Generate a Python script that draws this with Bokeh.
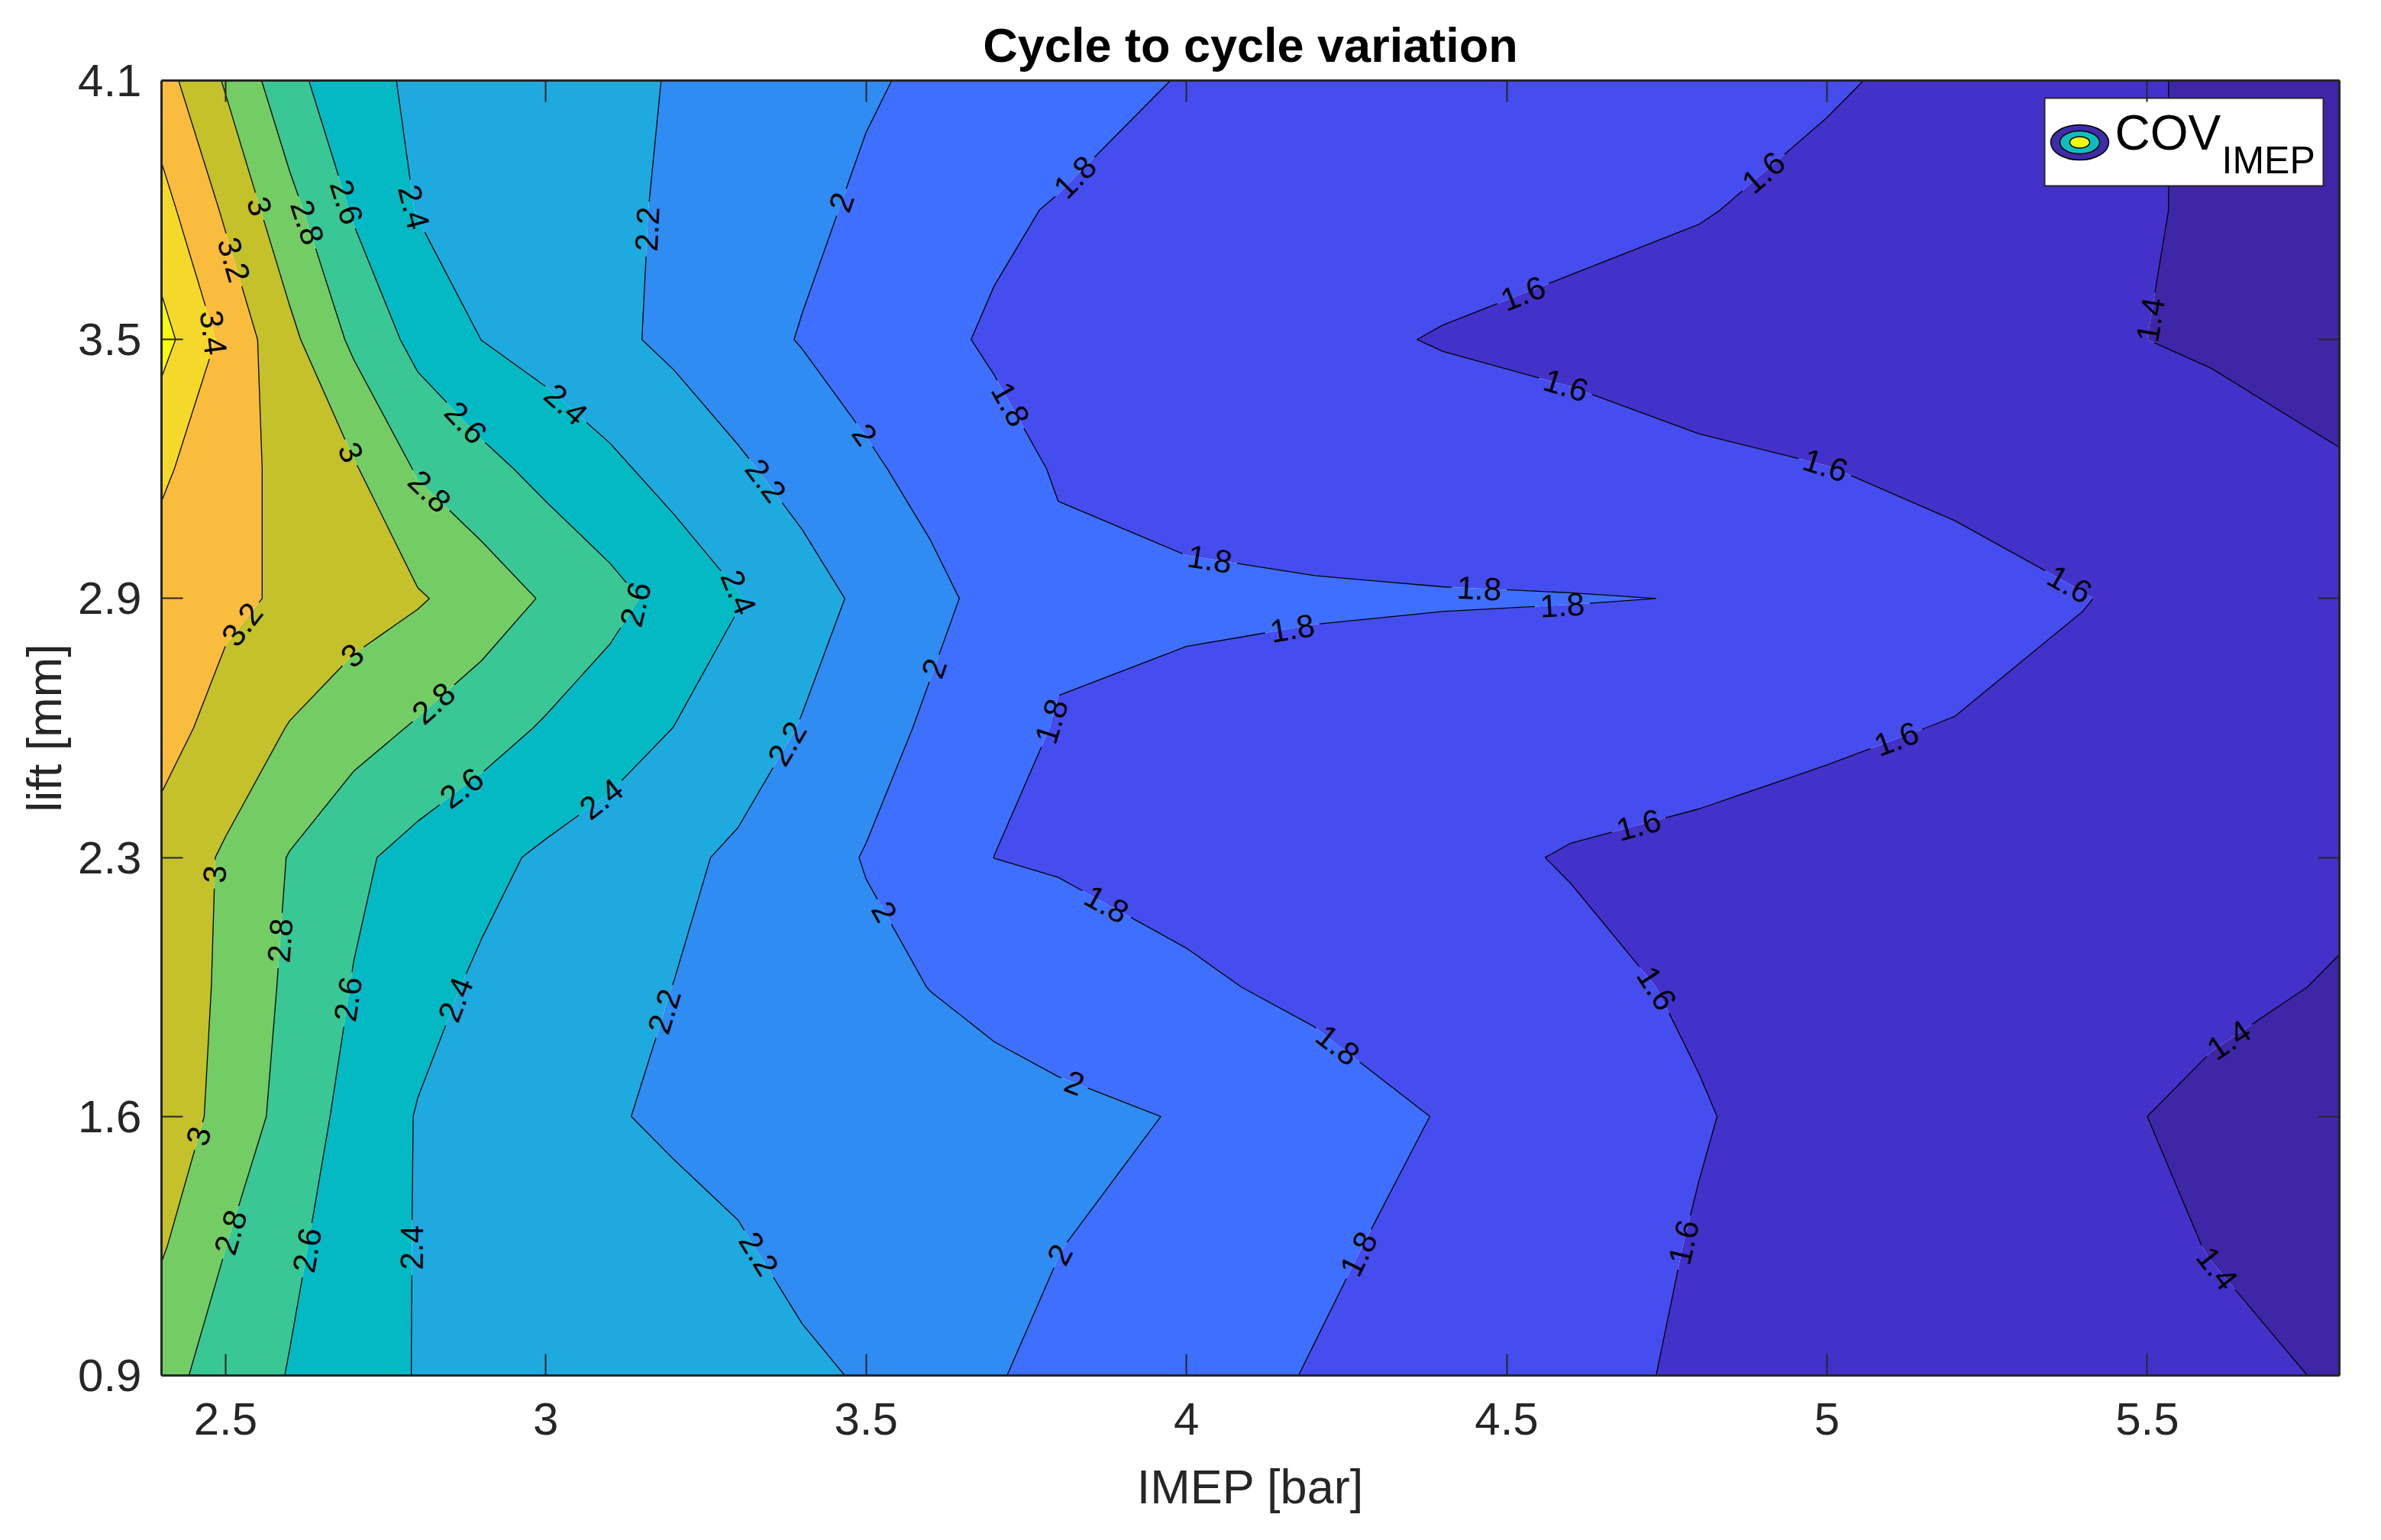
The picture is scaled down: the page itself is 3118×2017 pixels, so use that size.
import numpy as np
from contourpy import contour_generator
from bokeh.plotting import figure
from bokeh.models import Range1d, FixedTicker, LinearAxis, Label, NumeralTickFormatter
from bokeh.embed import file_html
from bokeh.resources import INLINE
from bokeh.core.properties import value

# ------------------------------------------------------------------ data
imep_bar = [2.4, 2.5, 2.6, 2.7, 2.8, 2.9, 3.0, 3.1, 3.2, 3.3, 3.4, 3.5, 3.6, 3.7,
            3.8, 4.0, 4.2, 4.4, 4.6, 4.8, 5.0, 5.2, 5.4, 5.6, 5.8]
# rows of the grid, as positions on the (equally spaced) lift axis
lift_pos = [0.0, 0.5, 1.0, 1.5, 2.0, 2.5, 3.0, 3.5, 4.0, 4.5, 5.0]
lift_tick_pos = [0, 1, 2, 3, 4, 5]
lift_tick_labels = ["0.9", "1.6", "2.3", "2.9", "3.5", "4.1"]
imep_ticks = [2.5, 3.0, 3.5, 4.0, 4.5, 5.0, 5.5]

cov_r00 = [2.86, 2.72, 2.59, 2.49, 2.39, 2.36, 2.34, 2.31, 2.28, 2.25, 2.22, 2.19, 2.08, 2.01,
           1.96, 1.87, 1.79, 1.72, 1.64, 1.58, 1.55, 1.51, 1.47, 1.43, 1.39]
cov_r05 = [3.02, 2.802, 2.64, 2.50, 2.39, 2.36, 2.32, 2.28, 2.24, 2.21, 2.17, 2.13, 2.09, 2.045,
           2.004, 1.92, 1.83, 1.75, 1.67, 1.59, 1.54, 1.49, 1.45, 1.396, 1.34]
cov_r10 = [3.12, 2.94, 2.72, 2.53, 2.39, 2.33, 2.27, 2.21, 2.18, 2.16, 2.13, 2.11, 2.09, 2.06,
           2.04, 1.99, 1.89, 1.79, 1.70, 1.61, 1.54, 1.48, 1.43, 1.37, 1.31]
cov_r15 = [3.14, 2.96, 2.76, 2.59, 2.46, 2.37, 2.31, 2.26, 2.198, 2.15, 2.10, 2.05, 1.997, 1.956,
           1.91, 1.83, 1.76, 1.70, 1.64, 1.58, 1.54, 1.50, 1.47, 1.43, 1.39]
cov_r20 = [3.13, 2.975, 2.79, 2.64, 2.53, 2.45, 2.37, 2.31, 2.24, 2.17, 2.08, 1.99, 1.89, 1.799,
           1.78, 1.73, 1.69, 1.64, 1.59, 1.57, 1.55, 1.52, 1.49, 1.46, 1.43]
cov_r25 = [3.27, 3.13, 2.99, 2.88, 2.78, 2.68, 2.58, 2.49, 2.398, 2.30, 2.19, 2.08, 1.97, 1.864,
           1.79, 1.766, 1.74, 1.71, 1.68, 1.65, 1.62, 1.594, 1.553, 1.512, 1.47]
cov_r30 = [3.31, 3.24, 3.17, 3.09, 3.02, 2.91, 2.78, 2.66, 2.53, 2.41, 2.28, 2.16, 2.05, 1.94,
           1.83, 1.82, 1.815, 1.81, 1.806, 1.797, 1.72, 1.66, 1.605, 1.54, 1.47]
cov_r35 = [3.43, 3.28, 3.14, 3.02, 2.78, 2.66, 2.54, 2.44, 2.33, 2.23, 2.13, 2.03, 1.94, 1.845,
           1.79, 1.76, 1.73, 1.70, 1.67, 1.63, 1.603, 1.56, 1.51, 1.47, 1.41]
cov_r40 = [3.67, 3.35, 3.05, 2.76, 2.54, 2.398, 2.32, 2.24, 2.16, 2.07, 1.99, 1.91, 1.83, 1.783,
           1.76, 1.70, 1.64, 1.59, 1.56, 1.52, 1.49, 1.45, 1.42, 1.38, 1.35]
cov_r45 = [3.47, 3.17, 2.86, 2.58, 2.39, 2.34, 2.29, 2.23, 2.18, 2.11, 2.04, 1.97, 1.90, 1.824,
           1.79, 1.75, 1.72, 1.68, 1.64, 1.61, 1.55, 1.49, 1.44, 1.38, 1.32]
cov_r50 = [3.28, 2.98, 2.66, 2.46, 2.37, 2.33, 2.28, 2.24, 2.19, 2.13, 2.07, 2.02, 1.97, 1.921,
           1.87, 1.79, 1.76, 1.72, 1.69, 1.65, 1.62, 1.55, 1.46, 1.37, 1.30]

contour_levels = [1.4, 1.6, 1.8, 2.0, 2.2, 2.4, 2.6, 2.8, 3.0, 3.2, 3.4, 3.6]
band_bounds = [1.2] + contour_levels + [3.8]
band_colors = ["#3E27A7", "#4232CA", "#464DEE", "#3E6FFF", "#2E8CF2", "#1EAADE",
               "#03B9C4", "#39C795", "#73CD64", "#C4C12A", "#FABC3C", "#F5D92A", "#F9FB0E"]

Z = np.array([cov_r00, cov_r05, cov_r10, cov_r15, cov_r20, cov_r25,
              cov_r30, cov_r35, cov_r40, cov_r45, cov_r50])
X = np.array(imep_bar)
Y = np.array(lift_pos)

# ------------------------------------------------------------------ layout
FRAME_W, FRAME_H = 2852, 1696
X0, X1 = 2.4, 5.8
Y0, Y1 = 0.0, 5.0
PX_X = FRAME_W / (X1 - X0)
PX_Y = FRAME_H / (Y1 - Y0)
FONT = "Liberation Sans"
AX_COLOR = "#262626"

p = figure(frame_width=FRAME_W, frame_height=FRAME_H,
           x_range=Range1d(X0, X1), y_range=Range1d(Y0, Y1),
           output_backend="svg", toolbar_location=None,
           min_border_left=211, min_border_top=105, min_border_right=40,
           min_border_bottom=195, title="Cycle to cycle variation")
p.background_fill_color = "white"
p.border_fill_color = "white"
p.outline_line_color = None
p.xgrid.visible = False
p.ygrid.visible = False

p.title.align = "center"
p.title.text_font = FONT
p.title.text_font_size = "63px"
p.title.text_font_style = "bold"
p.title.text_color = "black"
p.title.standoff = 24

# filled bands
p.contour(X, Y, Z, band_bounds, fill_color=band_colors, line_color=None)

# contour lines with gaps for inline labels
gen = contour_generator(x=X, y=Y, z=Z, line_type="Separate")
LBL_FS = 42
SPACING = 330.0
MIN_LEN = 380.0
PAD = 7.0


def text_w(t):
    return sum((0.278 if c == "." else 0.556) for c in t) * LBL_FS


line_xs, line_ys = [], []
lab_x, lab_y, lab_t, lab_a = [], [], [], []
for lev in contour_levels:
    txt = "%g" % lev
    for path in gen.lines(lev):
        if len(path) < 2:
            continue
        sx = (path[:, 0] - X0) * PX_X
        sy = (path[:, 1] - Y0) * PX_Y
        seg = np.hypot(np.diff(sx), np.diff(sy))
        keep = np.concatenate([[True], seg > 1e-9])
        sx, sy = sx[keep], sy[keep]
        s = np.concatenate([[0.0], np.cumsum(np.hypot(np.diff(sx), np.diff(sy)))])
        total = s[-1]
        gaps = []
        if total >= MIN_LEN:
            n = max(1, int(total // SPACING))
            w = text_w(txt)
            for k in range(n):
                c = (k + 0.5) * total / n
                xc, yc = np.interp(c, s, sx), np.interp(c, s, sy)
                xa, ya = np.interp(c - 22, s, sx), np.interp(c - 22, s, sy)
                xb, yb = np.interp(c + 22, s, sx), np.interp(c + 22, s, sy)
                ang = np.arctan2(yb - ya, xb - xa)
                if ang > np.pi / 2:
                    ang -= np.pi
                elif ang <= -np.pi / 2:
                    ang += np.pi
                lab_x.append(xc / PX_X + X0)
                lab_y.append(yc / PX_Y + Y0)
                lab_t.append(txt)
                lab_a.append(float(ang))
                gaps.append((c - w / 2 - PAD, c + w / 2 + PAD))
        starts = [0.0] + [g[1] for g in gaps]
        ends = [g[0] for g in gaps] + [total]
        for a, b in zip(starts, ends):
            if b - a <= 0.5:
                continue
            m = (s > a) & (s < b)
            ps = np.concatenate([[a], s[m], [b]])
            line_xs.append(list(np.interp(ps, s, sx) / PX_X + X0))
            line_ys.append(list(np.interp(ps, s, sy) / PX_Y + Y0))

p.multi_line(line_xs, line_ys, line_color="black", line_width=1.3)
p.text(x=lab_x, y=lab_y, text=lab_t, angle=lab_a,
       text_font=value(FONT), text_font_size="%dpx" % LBL_FS,
       text_align="center", text_baseline="middle", text_color="black")

# ------------------------------------------------------------------ axes
def style_axis(ax, labels=True):
    ax.major_tick_in = 28
    ax.major_tick_out = 0
    ax.minor_tick_in = 0
    ax.minor_tick_out = 0
    ax.major_tick_line_color = AX_COLOR
    ax.major_tick_line_width = 2
    ax.axis_line_color = AX_COLOR
    ax.axis_line_width = 3
    ax.major_label_text_font = FONT
    ax.major_label_text_font_size = "60px" if labels else "0px"
    ax.major_label_text_color = AX_COLOR
    ax.axis_label_text_font = FONT
    ax.axis_label_text_font_size = "63px"
    ax.axis_label_text_font_style = "normal"
    ax.axis_label_text_color = AX_COLOR


xa = p.xaxis[0]
xa.ticker = FixedTicker(ticks=imep_ticks)
xa.formatter = NumeralTickFormatter(format="0.[0]")
xa.axis_label = "IMEP [bar]"
style_axis(xa)
xa.major_label_standoff = 36
xa.axis_label_standoff = 30

ya = p.yaxis[0]
ya.ticker = FixedTicker(ticks=lift_tick_pos)
ya.major_label_overrides = {t: l for t, l in zip(lift_tick_pos, lift_tick_labels)}
ya.axis_label = "lift [mm]"
style_axis(ya)
ya.major_label_standoff = 26
ya.axis_label_standoff = 6

top = LinearAxis(ticker=FixedTicker(ticks=imep_ticks),
                 major_label_overrides={t: "" for t in imep_ticks})
style_axis(top, labels=False)
top.major_label_standoff = 0
p.add_layout(top, "above")

right = LinearAxis(ticker=FixedTicker(ticks=lift_tick_pos),
                   major_label_overrides={t: "" for t in lift_tick_pos})
style_axis(right, labels=False)
right.major_label_standoff = 0
p.add_layout(right, "right")

# ------------------------------------------------------------------ legend
def fx(px):
    return X0 + px / PX_X


def fy(px):
    return Y1 - px / PX_Y


LEG_L, LEG_T, LEG_W, LEG_H = FRAME_W - 21 - 365, 23, 365, 115
p.quad(left=[fx(LEG_L)], right=[fx(LEG_L + LEG_W)], top=[fy(LEG_T)],
       bottom=[fy(LEG_T + LEG_H)], fill_color="white",
       line_color=AX_COLOR, line_width=2)
icx, icy = fx(LEG_L + 46), fy(LEG_T + 58)
p.ellipse(x=[icx, icx, icx], y=[icy, icy, icy], width=[76, 52, 26],
          height=[46, 30, 15], width_units="screen", height_units="screen",
          fill_color=["#3E2CA8", "#0DBDBE", "#F9FB0E"], line_color="black",
          line_width=1.5)
p.add_layout(Label(x=fx(LEG_L + 92), y=fy(68), text="COV", text_font=FONT,
                   text_font_size="64px", text_color="black",
                   text_baseline="middle", text_align="left"))
p.add_layout(Label(x=fx(LEG_L + 232), y=fy(104), text="IMEP", text_font=FONT,
                   text_font_size="50px", text_color="black",
                   text_baseline="middle", text_align="left"))

open("out.html", "w").write(file_html(p, INLINE))
